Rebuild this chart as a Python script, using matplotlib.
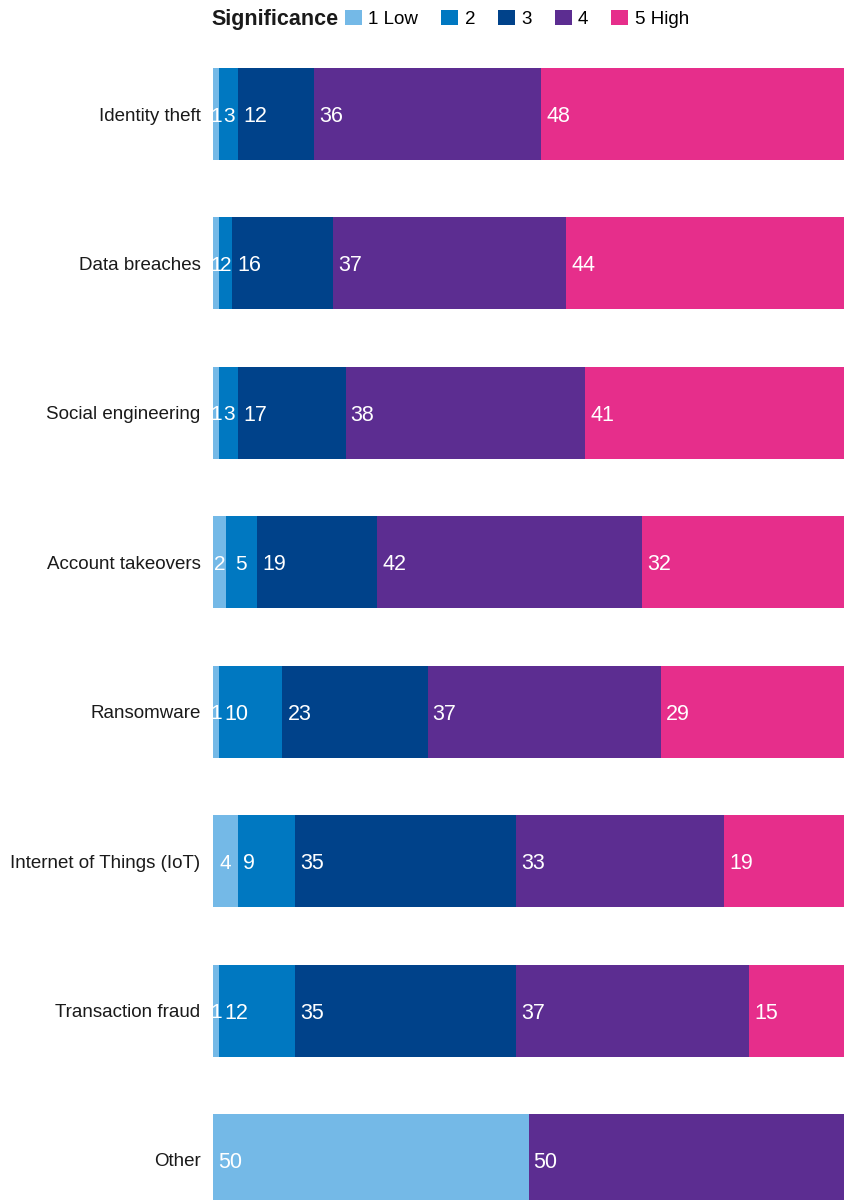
import matplotlib.pyplot as plt
import numpy as np

plt.rcParams['font.family'] = ['Liberation Sans', 'DejaVu Sans']

# --- Donnees ---
categories = ['Identity theft', 'Data breaches', 'Social engineering', 'Account takeovers',
              'Ransomware', 'Internet of Things (IoT)', 'Transaction fraud', 'Other']
levels = ['1 Low', '2', '3', '4', '5 High']
s1 = [1, 1, 1, 2, 1, 4, 1, 50]
s2 = [3, 2, 3, 5, 10, 9, 12, 0]
s3 = [12, 16, 17, 19, 23, 35, 35, 0]
s4 = [36, 37, 38, 42, 37, 33, 37, 50]
s5 = [48, 44, 41, 32, 29, 19, 15, 0]
colors = ['#74b9e7', '#0078c1', '#00428a', '#5c2d91', '#e62e8b']

series = [s1, s2, s3, s4, s5]

# --- Figure ---
fig = plt.figure(figsize=(8.44, 12), dpi=100)
# axes un peu plus bas que la figure : la derniere barre est coupee
ax = fig.add_axes([213 / 844, -6 / 1200, 631 / 844, 1138 / 1200])

y = np.arange(len(categories))
h = 0.616
left = np.zeros(len(categories))
for vals, col, lab in zip(series, colors, levels):
    vals = np.array(vals, dtype=float)
    ax.barh(y, vals, left=left, height=h, color=col, label=lab, linewidth=0)
    for yi, (l, v) in enumerate(zip(left, vals)):
        if v <= 0:
            continue
        if v < 6:
            # petit segment : etiquette centree
            ax.text(l + v / 2, yi, f'{int(v)}', ha='center', va='center_baseline',
                    color='white', fontsize=15)
        else:
            ax.annotate(f'{int(v)}', xy=(l, yi), xytext=(3.6, 0), textcoords='offset points',
                        ha='left', va='center_baseline', color='white', fontsize=15.5)
    left += vals

ax.set_xlim(0, 100)
ax.set_ylim(len(categories) - 1 + h / 2, -h / 2)
ax.set_yticks(y)
ax.set_yticklabels(categories, fontsize=13.5, color='#1a1a1a')
ax.tick_params(axis='y', length=0, pad=9)
ax.set_xticks([])
for sp in ax.spines.values():
    sp.set_visible(False)

# Legende
fig.text(211 / 844, 1 - 19 / 1200, 'Significance', fontsize=15.5, fontweight='bold',
         ha='left', va='center', color='#1a1a1a')
handles, labels = ax.get_legend_handles_labels()
fig.legend(handles, labels, ncol=5, loc='center left',
           bbox_to_anchor=(345 / 844, 1 - 19 / 1200), frameon=False,
           fontsize=13.5, handlelength=0.9, handleheight=0.9, handletextpad=0.35,
           columnspacing=1.22, borderaxespad=0, borderpad=0)

plt.savefig('out.png', dpi=100)
